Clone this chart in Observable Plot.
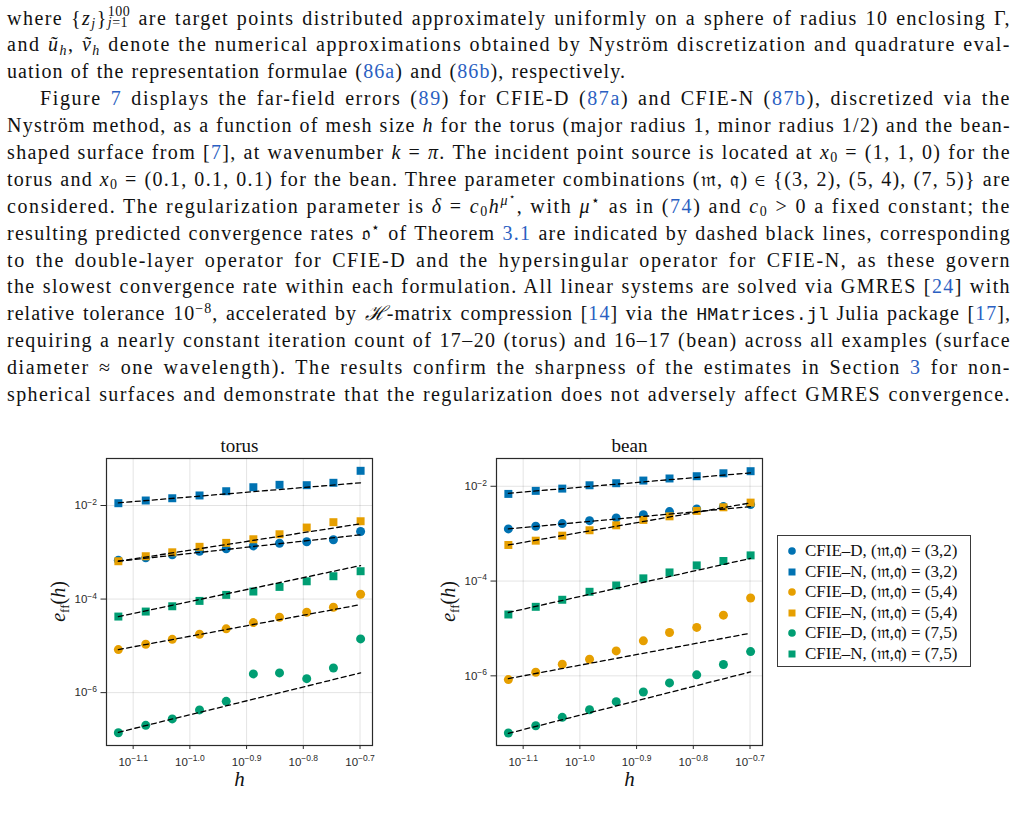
<!DOCTYPE html>
<html>
<head>
<meta charset="utf-8">
<script src="https://cdn.jsdelivr.net/npm/d3@7"></script>
<script src="https://cdn.jsdelivr.net/npm/@observablehq/plot@0.6"></script>
<style>
  html, body { margin: 0; padding: 0; background: #fff; }
  body { width: 1020px; height: 815px; position: relative; overflow: hidden;
         font-family: "Liberation Serif", "Times New Roman", serif; color: #111; }
  #text { position: absolute; left: 7px; top: 4.5px; width: 1004px; font-size: 20px; letter-spacing: 0.8px; }
  #text .ln { height: 26.9px; line-height: 26.9px; text-align: justify; text-align-last: justify; }
  #text .ln.last { text-align-last: left; letter-spacing: 1.1px; word-spacing: 1px; }
  #text .ind { padding-left: 33px; }
  a { color: #2b5fc2; text-decoration: none; }
  sub, sup { font-size: 0.7em; line-height: 0; position: relative; vertical-align: baseline; }
  sup { top: -0.55em; }
  sub { top: 0.25em; }
  .stk { display: inline-block; position: relative; width: 1.15em; height: 1em; }
  .stk span { position: absolute; left: 0; font-size: 0.7em; line-height: 1; white-space: nowrap; letter-spacing: 0.5px; }
  .stk .u { top: 0.02em; }
  .stk .d { top: 0.82em; }
  code { font-family: "Liberation Mono", monospace; font-size: 0.92em; letter-spacing: 0 !important; }
  .panel { position: absolute; top: 430px; }
  #legend { position: absolute; left: 777px; top: 535px; width: 194px; height: 132px; box-sizing: border-box;
            border: 1.2px solid #3a3a3a; padding-top: 5px; font-size: 17px; }
  #legend .row { height: 20.5px; line-height: 20.5px; position: relative; white-space: nowrap; }
  #legend .row svg { position: absolute; left: 8px; top: 4.25px; }
  #legend .row span { position: absolute; left: 27px; top: 0; }
</style>
</head>
<body>
<div id="text">
  <div class="ln">where {<i>z</i><sub><i>j</i></sub>}<span class="stk"><span class="u">100</span><span class="d"><i>j</i>=1</span></span> are target points distributed approximately uniformly on a sphere of radius 10 enclosing Γ,</div>
  <div class="ln">and <i>ũ</i><sub><i>h</i></sub>, <i>ṽ</i><sub><i>h</i></sub> denote the numerical approximations obtained by Nyström discretization and quadrature eval-</div>
  <div class="ln last">uation of the representation formulae (<a>86a</a>) and (<a>86b</a>), respectively.</div>
  <div class="ln ind">Figure <a>7</a> displays the far-field errors (<a>89</a>) for CFIE-D (<a>87a</a>) and CFIE-N (<a>87b</a>), discretized via the</div>
  <div class="ln">Nyström method, as a function of mesh size <i>h</i> for the torus (major radius 1, minor radius 1/2) and the bean-</div>
  <div class="ln">shaped surface from [<a>7</a>], at wavenumber <i>k</i> = <i>π</i>. The incident point source is located at <i>x</i><sub>0</sub> = (1, 1, 0) for the</div>
  <div class="ln">torus and <i>x</i><sub>0</sub> = (0.1, 0.1, 0.1) for the bean. Three parameter combinations (𝔪, 𝔮) ∈ {(3, 2), (5, 4), (7, 5)} are</div>
  <div class="ln">considered. The regularization parameter is <i>δ</i> = <i>c</i><sub>0</sub><i>h</i><sup><i>μ</i><sup>⋆</sup></sup>, with <i>μ</i><sup>⋆</sup> as in (<a>74</a>) and <i>c</i><sub>0</sub> &gt; 0 a fixed constant; the</div>
  <div class="ln">resulting predicted convergence rates 𝔬<sup>⋆</sup> of Theorem <a>3.1</a> are indicated by dashed black lines, corresponding</div>
  <div class="ln">to the double-layer operator for CFIE-D and the hypersingular operator for CFIE-N, as these govern</div>
  <div class="ln">the slowest convergence rate within each formulation. All linear systems are solved via GMRES [<a>24</a>] with</div>
  <div class="ln">relative tolerance 10<sup>−8</sup>, accelerated by <i>ℋ</i>-matrix compression [<a>14</a>] via the <code>HMatrices.jl</code> Julia package [<a>17</a>],</div>
  <div class="ln">requiring a nearly constant iteration count of 17–20 (torus) and 16–17 (bean) across all examples (surface</div>
  <div class="ln">diameter ≈ one wavelength). The results confirm the sharpness of the estimates in Section <a>3</a> for non-</div>
  <div class="ln">spherical surfaces and demonstrate that the regularization does not adversely affect GMRES convergence.</div>
</div>

<div id="torus" class="panel" style="left:20px"></div>
<div id="bean" class="panel" style="left:410px"></div>
<div id="legend"></div>

<script>
// Mesh sizes h (shared by both surfaces)
const h = [0.0748, 0.0836, 0.0931, 0.1040, 0.1159, 0.1294, 0.1439, 0.1607, 0.1791, 0.2000];

// Series: formulation and (m, q) combination
const seriesNames = [
  "CFIE–D, (𝔪,𝔮) = (3,2)",
  "CFIE–N, (𝔪,𝔮) = (3,2)",
  "CFIE–D, (𝔪,𝔮) = (5,4)",
  "CFIE–N, (𝔪,𝔮) = (5,4)",
  "CFIE–D, (𝔪,𝔮) = (7,5)",
  "CFIE–N, (𝔪,𝔮) = (7,5)"
];
const seriesColors = ["#0072B2", "#0072B2", "#E69F00", "#E69F00", "#009E73", "#009E73"];
const seriesShapes = ["circle", "square", "circle", "square", "circle", "square"];

// Axis tick exponents (ticks at 10^p)
const xTickExponents = [-1.1, -1.0, -0.9, -0.8, -0.7];
const yTickExponents = [-6, -4, -2];

// Far-field errors, torus
const torusD32 = [6.76e-4, 7.60e-4, 8.81e-4, 1.05e-3, 1.19e-3, 1.37e-3, 1.56e-3, 1.68e-3, 1.85e-3, 2.78e-3];
const torusN32 = [1.12e-2, 1.28e-2, 1.43e-2, 1.64e-2, 2.02e-2, 2.46e-2, 2.77e-2, 2.72e-2, 3.06e-2, 5.52e-2];
const torusD54 = [8.32e-6, 1.08e-5, 1.38e-5, 1.77e-5, 2.31e-5, 3.14e-5, 4.08e-5, 5.22e-5, 6.68e-5, 1.27e-4];
const torusN54 = [6.44e-4, 8.24e-4, 1.00e-3, 1.31e-3, 1.59e-3, 1.90e-3, 2.43e-3, 3.38e-3, 4.40e-3, 4.61e-3];
const torusD75 = [1.39e-7, 2.00e-7, 2.74e-7, 4.27e-7, 6.52e-7, 2.51e-6, 2.64e-6, 1.99e-6, 3.37e-6, 1.41e-5];
const torusN75 = [4.23e-5, 5.41e-5, 7.02e-5, 9.14e-5, 1.23e-4, 1.45e-4, 1.82e-4, 2.40e-4, 3.08e-4, 3.94e-4];
// Predicted-rate guide lines, torus (value at first and last h, same series order)
const torusGuideStart = [6.44e-4, 1.14e-2, 8.32e-6, 6.44e-4, 1.42e-7, 4.23e-5];
const torusGuideEnd   = [2.36e-3, 3.06e-2, 7.62e-5, 4.06e-3, 2.64e-6, 5.21e-4];

// Far-field errors, bean
const beanD32 = [1.26e-3, 1.43e-3, 1.63e-3, 1.88e-3, 2.15e-3, 2.52e-3, 2.92e-3, 3.33e-3, 3.72e-3, 4.10e-3];
const beanN32 = [6.90e-3, 8.00e-3, 8.93e-3, 1.05e-2, 1.16e-2, 1.32e-2, 1.46e-2, 1.63e-2, 1.88e-2, 2.08e-2];
const beanD54 = [8.32e-7, 1.19e-6, 1.76e-6, 2.24e-6, 3.36e-6, 5.47e-6, 8.19e-6, 1.05e-5, 1.91e-5, 4.38e-5];
const beanN54 = [5.77e-4, 7.11e-4, 9.08e-4, 1.18e-3, 1.50e-3, 1.95e-3, 2.32e-3, 3.02e-3, 3.60e-3, 4.52e-3];
const beanD75 = [6.21e-8, 8.85e-8, 1.33e-7, 1.93e-7, 2.85e-7, 4.57e-7, 7.08e-7, 1.05e-6, 1.73e-6, 3.25e-6];
const beanN75 = [1.97e-5, 2.86e-5, 4.03e-5, 5.94e-5, 8.07e-5, 1.14e-4, 1.52e-4, 2.14e-4, 2.65e-4, 3.48e-4];
// Predicted-rate guide lines, bean
const beanGuideStart = [1.26e-3, 7.11e-3, 8.73e-7, 5.77e-4, 6.11e-8, 2.17e-5];
const beanGuideEnd   = [3.72e-3, 1.92e-2, 7.96e-6, 4.46e-3, 1.21e-6, 3.01e-4];

const serif = "'Liberation Serif', 'Times New Roman', serif";
const sans = "'Liberation Sans', Arial, sans-serif";

// Even out each justified line: pick a letter spacing that brings its natural
// width close to the column, then let justification spread the remainder.
document.querySelectorAll("#text .ln:not(.last)").forEach(ln => {
  const avail = ln.clientWidth - parseFloat(getComputedStyle(ln).paddingLeft);
  ln.style.whiteSpace = "nowrap";
  ln.style.textAlign = "left";
  ln.style.textAlignLast = "left";
  ln.style.letterSpacing = "0px";
  const probe = document.createElement("span");
  while (ln.firstChild) probe.appendChild(ln.firstChild);
  ln.appendChild(probe);
  const w0 = probe.getBoundingClientRect().width;
  while (probe.firstChild) ln.insertBefore(probe.firstChild, probe);
  probe.remove();
  const n = ln.textContent.replace(/\s+/g, " ").trim().length;
  const ls = Math.max(-0.6, Math.min(1.6, (avail - 10 - w0) / n));
  ln.style.letterSpacing = ls.toFixed(2) + "px";
  ln.style.whiteSpace = "";
  ln.style.textAlign = "";
  ln.style.textAlignLast = "";
});

function pointRows(arrays) {
  return arrays.flatMap((vals, i) => vals.map((e, k) => ({h: h[k], e, series: seriesNames[i]})));
}
function guideRows(starts, ends) {
  return starts.flatMap((s, i) => [
    {h: h[0], e: s, series: seriesNames[i]},
    {h: h[h.length - 1], e: ends[i], series: seriesNames[i]}
  ]);
}
const minus = s => s.replace("-", "−");
const fmtX = d => "10^" + minus(Math.log10(d).toFixed(1));
const fmtY = d => "10^" + minus(String(Math.round(Math.log10(d))));

// Write tick labels as "10" followed by a raised exponent
function powerLabels(svg, axis, ticks, fmt) {
  d3.select(svg).selectAll(`g[aria-label="${axis}-axis tick label"] text`).each(function (_, i) {
    const [base, exp] = fmt(ticks[i]).split("^");
    const t = d3.select(this).text(null);
    t.append("tspan").text(base);
    t.append("tspan").attr("dy", "-0.5em").attr("font-size", "8.5px").text(exp);
  });
}

function panel(title, points, guides, yDomain) {
  const xTicks = xTickExponents.map(p => 10 ** p);
  const yTicks = yTickExponents.map(p => 10 ** p);
  const svg = Plot.plot({
    width: 362, height: 365,
    marginLeft: 86, marginRight: 10, marginTop: 28, marginBottom: 50,
    style: {background: "transparent", color: "#2a2a2a", fontFamily: sans, fontSize: "11.5px", overflow: "visible"},
    x: {type: "log", domain: [10 ** -1.147, 10 ** -0.678], label: null},
    y: {type: "log", domain: yDomain, label: null},
    color: {domain: seriesNames, range: seriesColors},
    symbol: {domain: seriesNames, range: seriesShapes},
    marks: [
      Plot.gridX(xTicks, {stroke: "#000", strokeOpacity: 0.11, strokeWidth: 1}),
      Plot.gridY(yTicks, {stroke: "#000", strokeOpacity: 0.11, strokeWidth: 1}),
      Plot.dot(points, {x: "h", y: "e", fill: "series", symbol: "series", r: 4.5, stroke: "none"}),
      Plot.line(guides, {x: "h", y: "e", z: "series", stroke: "#000", strokeWidth: 1.3, strokeDasharray: "5,3.5"}),
      Plot.frame({stroke: "#2a2a2a", strokeWidth: 1.2}),
      Plot.axisX(xTicks, {tickSize: 4, tickPadding: 8, tickFormat: fmtX, label: null}),
      Plot.axisY(yTicks, {tickSize: 5.5, tickPadding: 4, tickFormat: fmtY, label: null}),
      Plot.text([title], {frameAnchor: "top", lineAnchor: "bottom", dy: -7, fontFamily: serif, fontSize: 19, fill: "#111"}),
      Plot.text(["h"], {frameAnchor: "bottom", lineAnchor: "bottom", dy: 40, fontFamily: serif, fontStyle: "italic", fontSize: 21, fill: "#111"})
    ]
  });

  powerLabels(svg, "x", xTicks, fmtX);
  powerLabels(svg, "y", yTicks, fmtY);

  // Vertical axis label e_ff(h)
  const yl = d3.select(svg).append("text")
    .attr("transform", `translate(45,${28 + 287 / 2}) rotate(-90)`)
    .attr("text-anchor", "middle")
    .attr("font-family", serif).attr("font-size", 20).attr("fill", "#111");
  yl.append("tspan").attr("font-style", "italic").text("e");
  yl.append("tspan").attr("font-size", 13).attr("dy", 4).text("ff");
  yl.append("tspan").attr("dy", -4).text("(");
  yl.append("tspan").attr("font-style", "italic").text("h");
  yl.append("tspan").text(")");
  return svg;
}

document.getElementById("torus").append(panel(
  "torus",
  pointRows([torusD32, torusN32, torusD54, torusN54, torusD75, torusN75]),
  guideRows(torusGuideStart, torusGuideEnd),
  [10 ** -7.13, 10 ** -0.995]
));
document.getElementById("bean").append(panel(
  "bean",
  pointRows([beanD32, beanN32, beanD54, beanN54, beanD75, beanN75]),
  guideRows(beanGuideStart, beanGuideEnd),
  [10 ** -7.47, 10 ** -1.414]
));

// Shared legend
const legend = d3.select("#legend");
seriesNames.forEach((name, i) => {
  const row = legend.append("div").attr("class", "row");
  const s = row.append("svg").attr("width", 12).attr("height", 12);
  if (seriesShapes[i] === "circle") {
    s.append("circle").attr("cx", 6).attr("cy", 6).attr("r", 3.8).attr("fill", seriesColors[i]);
  } else {
    s.append("rect").attr("x", 2.5).attr("y", 2.5).attr("width", 7).attr("height", 7).attr("fill", seriesColors[i]);
  }
  row.append("span").text(name);
});
</script>
</body>
</html>
